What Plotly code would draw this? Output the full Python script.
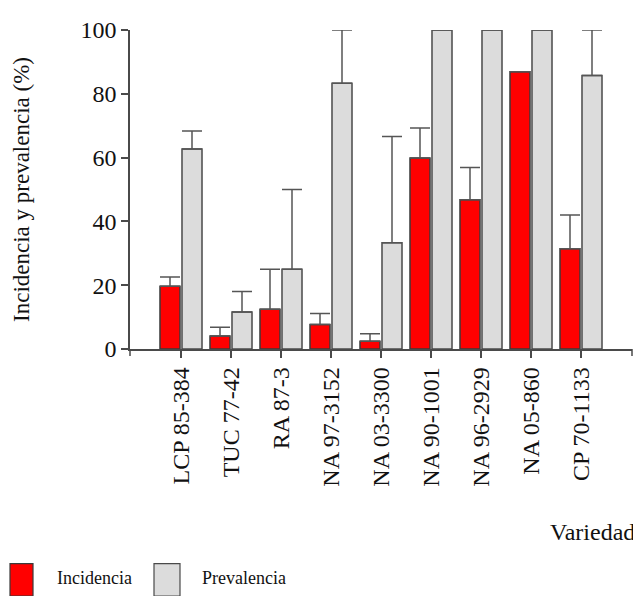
# Incidencia y prevalencia por variedad
import plotly.graph_objects as go

variedades = ["LCP 85-384", "TUC 77-42", "RA 87-3", "NA 97-3152", "NA 03-3300",
              "NA 90-1001", "NA 96-2929", "NA 05-860", "CP 70-1133"]
incidencia = [19.7, 4.1, 12.5, 7.7, 2.4, 59.9, 46.8, 86.9, 31.4]
incidencia_err = [2.9, 2.7, 12.5, 3.4, 2.4, 9.4, 10.1, None, 10.6]
prevalencia = [62.7, 11.6, 25.0, 83.3, 33.3, 100, 100, 100, 85.7]
prevalencia_err = [5.6, 6.4, 25.0, 16.7, 33.3, None, None, None, 14.3]

FONT = "Liberation Serif, Times New Roman, serif"
LINE = "#4a4a4a"

fig = go.Figure()
fig.add_trace(go.Bar(
    x=variedades, y=incidencia, name="Incidencia",
    marker=dict(color="#ff0000", line=dict(color="#3a3a3a", width=1.5)),
    error_y=dict(type="data", array=incidencia_err, symmetric=False,
                 arrayminus=[0] * len(variedades),
                 color="#555555", thickness=1.5, width=10),
))
fig.add_trace(go.Bar(
    x=variedades, y=prevalencia, name="Prevalencia",
    marker=dict(color="#dcdcdc", line=dict(color="#4a4a4a", width=1.5)),
    error_y=dict(type="data", array=prevalencia_err, symmetric=False,
                 arrayminus=[0] * len(variedades),
                 color="#555555", thickness=1.5, width=10),
))

# the page body has an 8px margin, so the figure sits at (8, 8)
OFF = 8
W, H = 641 - OFF, 596 - OFF
# plot area in page px: x 130..632, y 25..349
L, T = 130 - OFF, 25 - OFF
R = W - (632 - OFF)
B = H - (349 - OFF)
pw, ph = W - L - R, H - T - B

def px(x):
    return (x - OFF - L) / pw

def py(y):
    return (349 - y) / ph

fig.update_layout(
    width=W, height=H,
    margin=dict(l=L, r=R, t=T, b=B),
    paper_bgcolor="white", plot_bgcolor="white",
    barmode="group", bargap=0.12, bargroupgap=0.09,
    showlegend=False,
    font=dict(family=FONT, size=24, color="#111111"),
    xaxis=dict(
        type="category", range=[-1.02, 9.02],
        showline=True, linecolor=LINE, linewidth=1.5,
        ticks="outside", ticklen=7, tickwidth=1.5, tickcolor=LINE,
        tickangle=-90, tickfont=dict(size=24, family=FONT),
        showgrid=False, zeroline=False,
    ),
    yaxis=dict(
        range=[0, 100], tickvals=[0, 20, 40, 60, 80, 100],
        showline=True, linecolor=LINE, linewidth=1.5,
        ticks="outside", ticklen=7, tickwidth=1.5, tickcolor=LINE,
        tickfont=dict(size=24, family=FONT),
        showgrid=False, zeroline=False,
        title=dict(text="Incidencia y prevalencia (%)",
                   font=dict(size=23, family=FONT), standoff=44),
    ),
)

# ticks at the ends of the x axis
for xd in (0, 1):
    fig.add_shape(type="line", xref="x domain", yref="paper",
                  x0=xd, x1=xd, y0=0, y1=-7 / ph,
                  line=dict(color=LINE, width=1.5))

fig.add_annotation(text="Variedad", xref="paper", yref="paper",
                   x=px(637), y=py(535), xanchor="right", yanchor="middle",
                   showarrow=False, font=dict(size=24, family=FONT))

# legend drawn by hand (large swatches)
legend = [("Incidencia", "#ff0000", "#3a3a3a", 10, 33, 55),
          ("Prevalencia", "#dcdcdc", "#4a4a4a", 154, 180, 200)]
for label, fill, edge, x0, x1, xt in legend:
    fig.add_shape(type="rect", xref="paper", yref="paper",
                  x0=px(x0), x1=px(x1), y0=py(567), y1=py(600),
                  fillcolor=fill, line=dict(color=edge, width=1.2))
    fig.add_annotation(text=label, xref="paper", yref="paper",
                       x=px(xt), y=py(582), xanchor="left", yanchor="middle",
                       showarrow=False, font=dict(size=18, family=FONT))

fig.write_html("out.html")
